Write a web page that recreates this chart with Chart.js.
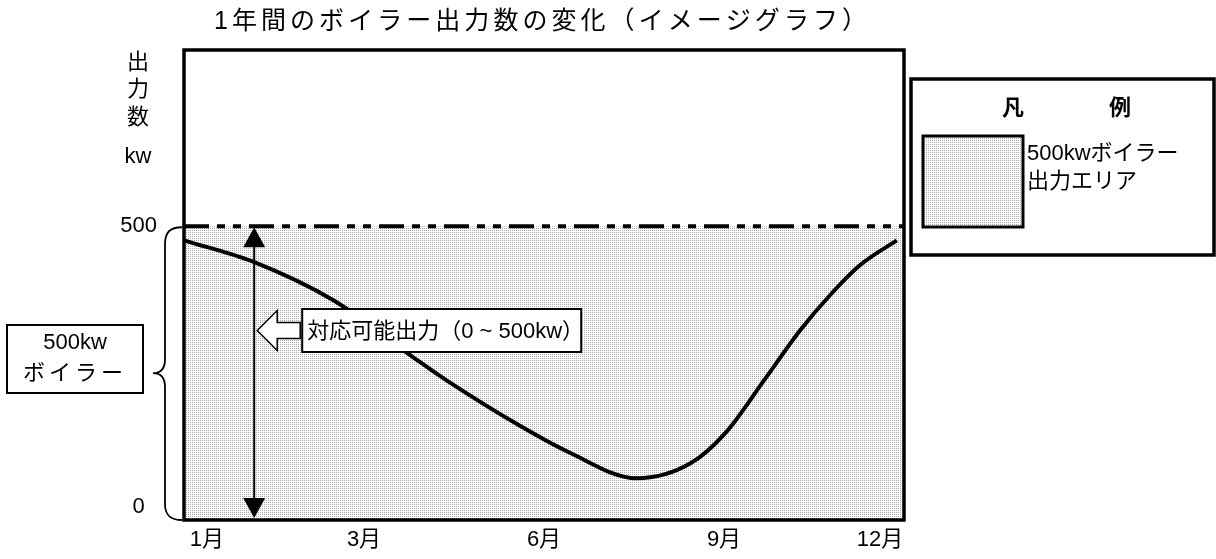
<!DOCTYPE html>
<html lang="ja">
<head>
<meta charset="utf-8">
<title>1年間のボイラー出力数の変化</title>
<script src="https://cdn.jsdelivr.net/npm/chart.js@4.4.1/dist/chart.umd.min.js"></script>
<style>
  html, body { margin: 0; padding: 0; background: #fff; }
  #wrap { width: 1216px; height: 559px; position: relative; }
</style>
</head>
<body>
<div id="wrap"><canvas id="c"></canvas></div>
<script>
// ---- data ----
const chartTitle = '1年間のボイラー出力数の変化（イメージグラフ）';
const yTitle = ['出', '力', '数', 'kw'];
const monthLabels = ['1月', '3月', '6月', '9月', '12月'];
const monthTickAt = [0.38, 3, 6, 9, 11.6];
const yTickValues = [0, 500];
const curveX = [0, 1.17, 2.49, 3.82, 4.37, 5.57, 6.44, 7.54, 8.45, 9.04, 9.67, 10.27, 10.77, 11.27, 11.88];
const curveY = [476, 439, 374, 277, 238, 162, 114, 71, 97, 150, 238, 323, 383, 434, 476];
const capacityX = [0, 12];
const capacityY = [500, 500];
const legendTitle = ['凡', '例'];
const legendLines = ['500kwボイラー', '出力エリア'];
const boilerLabel = ['500kw', 'ボイラー'];
const rangeLabel = '対応可能出力（0 ~ 500kw）';
const rangeArrowX = 1.17;
const rangeBottom = 0;
const rangeTop = 500;

// ---- styles ----
const FONT = '"Liberation Sans", "Noto Sans CJK JP", sans-serif';

// fine dotted fill used for the boiler output area
function makeDots() {
  const c = document.createElement('canvas');
  c.width = 2; c.height = 2;
  const g = c.getContext('2d');
  g.fillStyle = '#ffffff'; g.fillRect(0, 0, 2, 2);
  g.fillStyle = '#a9a9a9'; g.fillRect(0, 0, 1, 1);
  return g.createPattern(c, 'repeat');
}
const dots = makeDots();

// draw text stretched to a given width with letter spacing
function spacedText(ctx, text, left, cy, width) {
  const n = Array.from(text).length;
  ctx.letterSpacing = '0px';
  const w = ctx.measureText(text).width;
  const sp = n > 1 ? (width - w) / (n - 1) : 0;
  ctx.letterSpacing = sp + 'px';
  ctx.textAlign = 'left';
  ctx.textBaseline = 'middle';
  ctx.fillText(text, left, cy);
  ctx.letterSpacing = '0px';
}

const overlay = {
  id: 'overlay',
  afterDatasetsDraw(chart) {
    const { ctx, chartArea: a, scales: { x, y } } = chart;
    ctx.save();
    ctx.strokeStyle = '#000';
    ctx.fillStyle = '#000';

    // plot frame
    ctx.lineWidth = 3.5;
    ctx.strokeRect(a.left, a.top, a.right - a.left, a.bottom - a.top);

    // range arrow 0 – 500
    const ax = x.getPixelForValue(rangeArrowX);
    const yT = y.getPixelForValue(rangeTop);
    const yB = y.getPixelForValue(rangeBottom);
    ctx.lineWidth = 2;
    ctx.beginPath();
    ctx.moveTo(ax, yT + 18); ctx.lineTo(ax, yB - 18);
    ctx.stroke();
    ctx.beginPath();
    ctx.moveTo(ax, yT + 1); ctx.lineTo(ax - 11, yT + 21); ctx.lineTo(ax + 11, yT + 21); ctx.closePath();
    ctx.fill();
    ctx.beginPath();
    ctx.moveTo(ax, yB - 2); ctx.lineTo(ax - 11, yB - 22); ctx.lineTo(ax + 11, yB - 22); ctx.closePath();
    ctx.fill();

    // callout box with hollow arrow
    const bx = ax + 48, by = 309, bw = 279, bh = 43;
    const cy = by + bh / 2;
    ctx.fillStyle = '#fff';
    ctx.lineWidth = 1.5;
    ctx.beginPath();
    ctx.moveTo(ax + 3, cy);
    ctx.lineTo(ax + 23, cy - 20);
    ctx.lineTo(ax + 23, cy - 8);
    ctx.lineTo(bx - 2, cy - 8);
    ctx.lineTo(bx - 2, cy + 8);
    ctx.lineTo(ax + 23, cy + 8);
    ctx.lineTo(ax + 23, cy + 20);
    ctx.closePath();
    ctx.fill(); ctx.stroke();
    ctx.lineWidth = 2;
    ctx.fillRect(bx, by, bw, bh);
    ctx.strokeRect(bx, by, bw, bh);
    ctx.fillStyle = '#000';
    ctx.font = '22px ' + FONT;
    ctx.textAlign = 'left';
    ctx.textBaseline = 'middle';
    ctx.fillText(rangeLabel, bx + 5, cy + 1);
    ctx.restore();
  },
  afterDraw(chart) {
    const { ctx, chartArea: a, scales: { y } } = chart;
    ctx.save();
    ctx.strokeStyle = '#000';
    ctx.fillStyle = '#000';

    // title
    ctx.font = '25px ' + FONT;
    spacedText(ctx, chartTitle, 214, 22, 653);

    // stacked y-axis title
    ctx.font = '22px ' + FONT;
    ctx.textAlign = 'center';
    ctx.textBaseline = 'middle';
    const yt = [63, 90, 118, 157];
    yTitle.forEach((t, i) => ctx.fillText(t, 138, yt[i]));

    // brace spanning 0 – 500
    const yT = y.getPixelForValue(rangeTop);
    const yB = y.getPixelForValue(rangeBottom);
    const mid = (yT + yB) / 2;
    const L = a.left - 2;
    ctx.lineWidth = 1.8;
    ctx.beginPath();
    ctx.moveTo(L, yT + 1);
    ctx.bezierCurveTo(L - 12, yT + 1, L - 17, yT + 6, L - 17, yT + 18);
    ctx.lineTo(L - 17, mid - 14);
    ctx.bezierCurveTo(L - 17, mid - 4, L - 22, mid, L - 29, mid);
    ctx.bezierCurveTo(L - 22, mid, L - 17, mid + 4, L - 17, mid + 14);
    ctx.lineTo(L - 17, yB - 16);
    ctx.bezierCurveTo(L - 17, yB - 5, L - 12, yB, L, yB);
    ctx.stroke();

    // boiler label box
    ctx.lineWidth = 2;
    ctx.strokeRect(7, 325, 136, 68);
    ctx.font = '22px ' + FONT;
    ctx.textAlign = 'center';
    ctx.fillText(boilerLabel[0], 75, 343);
    spacedText(ctx, boilerLabel[1], 23, 374, 100);

    // legend
    ctx.lineWidth = 3.5;
    ctx.strokeRect(911, 79, 303, 176);
    ctx.font = 'bold 22px ' + FONT;
    ctx.textAlign = 'center';
    ctx.textBaseline = 'middle';
    ctx.fillText(legendTitle[0], 1013, 109);
    ctx.fillText(legendTitle[1], 1120, 109);
    const ds = chart.data.datasets[1];
    ctx.fillStyle = ds.backgroundColor;
    ctx.fillRect(923, 136, 100, 91);
    ctx.lineWidth = 3;
    ctx.strokeRect(923, 136, 100, 91);
    ctx.fillStyle = '#000';
    ctx.font = '22px ' + FONT;
    ctx.textAlign = 'left';
    ctx.fillText(legendLines[0], 1027, 154);
    ctx.fillText(legendLines[1], 1027, 182);
    ctx.restore();
  }
};

new Chart(document.getElementById('c'), {
  type: 'line',
  data: {
    datasets: [
      {
        label: '出力',
        data: curveX.map((v, i) => ({ x: v, y: curveY[i] })),
        borderColor: '#000',
        borderWidth: 4,
        tension: 0.4,
        cubicInterpolationMode: 'monotone',
        pointRadius: 0,
        fill: false
      },
      {
        label: legendLines.join(''),
        data: capacityX.map((v, i) => ({ x: v, y: capacityY[i] })),
        borderColor: '#000',
        borderWidth: 4,
        borderDash: [25, 8, 8, 8, 8, 8],
        borderCapStyle: 'butt',
        backgroundColor: dots,
        pointRadius: 0,
        fill: 'origin'
      }
    ]
  },
  options: {
    responsive: true,
    maintainAspectRatio: false,
    animation: false,
    layout: { padding: { top: 50, right: 312, bottom: 0, left: 0 } },
    plugins: {
      legend: { display: false },
      tooltip: { enabled: false },
      title: { display: false }
    },
    scales: {
      x: {
        type: 'linear',
        min: 0,
        max: 12,
        grid: { display: false, drawTicks: false },
        border: { display: false },
        afterBuildTicks: (s) => { s.ticks = monthTickAt.map(v => ({ value: v })); },
        afterFit: (s) => { s.height = 39; s.paddingLeft = 0; s.paddingRight = 0; },
        ticks: {
          autoSkip: false,
          maxRotation: 0,
          padding: 7,
          color: '#000',
          font: { family: FONT, size: 22 },
          callback: (v) => monthLabels[monthTickAt.indexOf(v)]
        }
      },
      y: {
        min: 0,
        max: 800,
        grid: { display: false, drawTicks: false },
        border: { display: false },
        afterBuildTicks: (s) => { s.ticks = yTickValues.map(v => ({ value: v })); },
        afterFit: (s) => { s.width = 184; s.paddingTop = 0; s.paddingBottom = 0; },
        ticks: {
          padding: 27,
          color: '#000',
          font: { family: FONT, size: 22, lineHeight: 1.2 },
          // the zero label sits slightly above and left of its tick
          callback: (v) => (v === 0 ? [String(v) + '  ', ''] : String(v))
        }
      }
    }
  },
  plugins: [overlay]
});
</script>
</body>
</html>
